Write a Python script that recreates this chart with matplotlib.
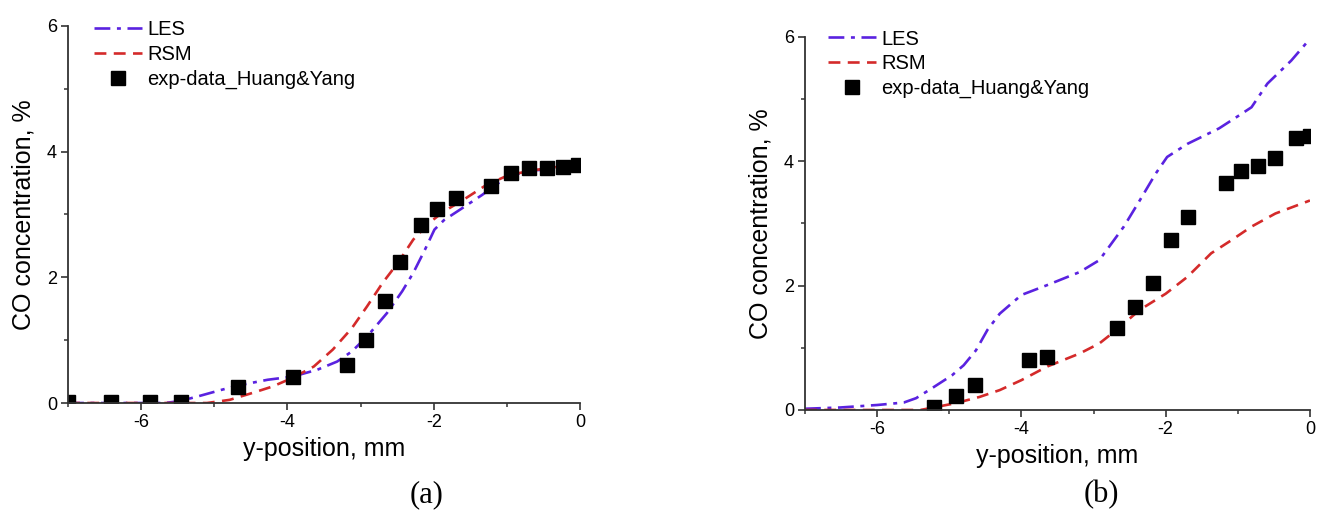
import matplotlib
matplotlib.use("Agg")
import matplotlib.pyplot as plt
from matplotlib.ticker import MultipleLocator

plt.rcParams["font.family"] = ["Liberation Sans", "DejaVu Sans"]
plt.rcParams["axes.unicode_minus"] = False

# --- panel (a) ---
les_a_x = [-7.0, -5.68, -5.47, -5.21, -4.9, -4.67, -4.27, -3.93, -3.59, -3.32, -3.12, -2.91,
           -2.64, -2.43, -2.28, -2.12, -1.99, -1.86, -1.65, -1.34, -1.02, -0.71, -0.34, 0.0]
les_a_y = [0.0, 0.0, 0.03, 0.11, 0.21, 0.28, 0.37, 0.42, 0.53, 0.66, 0.82, 1.06,
           1.43, 1.78, 2.07, 2.44, 2.76, 2.91, 3.07, 3.31, 3.58, 3.70, 3.72, 3.74]
rsm_a_x = [-7.0, -5.1, -4.79, -4.48, -4.21, -3.93, -3.64, -3.38, -3.12, -2.91, -2.70,
           -2.49, -2.28, -2.07, -1.86, -1.60, -1.28, -0.97, -0.60, -0.29, 0.0]
rsm_a_y = [0.0, 0.0, 0.05, 0.16, 0.26, 0.40, 0.58, 0.85, 1.19, 1.54, 1.91,
           2.23, 2.60, 2.86, 3.05, 3.23, 3.47, 3.63, 3.71, 3.76, 3.84]
exp_a_x = [-7.0, -6.41, -5.88, -5.45, -4.67, -3.93, -3.18, -2.92, -2.66, -2.46,
           -2.17, -1.95, -1.70, -1.22, -0.94, -0.70, -0.45, -0.23, -0.03]
exp_a_y = [0.02, 0.02, 0.02, 0.02, 0.25, 0.42, 0.61, 1.0, 1.62, 2.25,
           2.84, 3.08, 3.26, 3.46, 3.66, 3.74, 3.74, 3.75, 3.79]

# --- panel (b) ---
les_b_x = [-7.0, -6.51, -6.0, -5.63, -5.46, -5.24, -4.96, -4.80, -4.63, -4.47, -4.3, -4.0,
           -3.64, -3.19, -2.92, -2.75, -2.58, -2.36, -2.14, -1.98, -1.70, -1.26, -0.98,
           -0.81, -0.59, -0.26, 0.0]
les_b_y = [0.02, 0.04, 0.08, 0.12, 0.19, 0.35, 0.56, 0.72, 0.96, 1.29, 1.55, 1.85,
           2.01, 2.22, 2.41, 2.68, 2.95, 3.37, 3.80, 4.07, 4.28, 4.53, 4.74,
           4.87, 5.25, 5.62, 5.97]
rsm_b_x = [-7.0, -5.4, -5.13, -4.91, -4.58, -4.30, -4.0, -3.64, -3.19, -2.92, -2.68,
           -2.36, -2.0, -1.70, -1.37, -1.09, -0.81, -0.48, 0.0]
rsm_b_y = [0.0, 0.0, 0.06, 0.11, 0.21, 0.32, 0.48, 0.70, 0.91, 1.07, 1.29,
           1.61, 1.87, 2.14, 2.52, 2.73, 2.95, 3.16, 3.37]
exp_b_x = [-5.21, -4.91, -4.64, -3.90, -3.64, -2.68, -2.43, -2.18, -1.93, -1.69,
           -1.17, -0.96, -0.72, -0.48, -0.19, 0.0]
exp_b_y = [0.04, 0.22, 0.40, 0.80, 0.86, 1.32, 1.66, 2.04, 2.74, 3.10,
           3.65, 3.85, 3.93, 4.06, 4.38, 4.40]

les_color = "#5a22e0"
rsm_color = "#d42a2a"
axis_color = "#333333"

fig = plt.figure(figsize=(13.26, 5.24), dpi=100)
ax_a = fig.add_axes([0.0513, 0.2309, 0.3861, 0.7195])
ax_b = fig.add_axes([0.6071, 0.2176, 0.3808, 0.7118])


def draw_panel(ax, les_x, les_y, rsm_x, rsm_y, exp_x, exp_y, leg_anchor):
    ax.plot(les_x, les_y, color=les_color, lw=1.9, dashes=(6, 2.5, 1.5, 2.5), label="LES")
    ax.plot(rsm_x, rsm_y, color=rsm_color, lw=1.9, dashes=(4.5, 2.8), label="RSM")
    ax.plot(exp_x, exp_y, ls="none", marker="s", ms=10, color="black",
            label="exp-data_Huang&Yang")

    ax.set_xlim(-7, 0)
    ax.set_ylim(0, 6)
    ax.xaxis.set_major_locator(MultipleLocator(2))
    ax.xaxis.set_minor_locator(MultipleLocator(1))
    ax.yaxis.set_major_locator(MultipleLocator(2))
    ax.yaxis.set_minor_locator(MultipleLocator(1))
    for side in ["top", "right"]:
        ax.spines[side].set_visible(False)
    for side in ["left", "bottom"]:
        ax.spines[side].set_color(axis_color)
        ax.spines[side].set_linewidth(1.3)
    ax.tick_params(which="major", direction="out", length=5, width=1.2,
                   color=axis_color, labelsize=13, pad=3)
    ax.tick_params(which="minor", direction="out", length=3, width=1.1, color=axis_color)

    ax.set_xlabel("y-position, mm", fontsize=18, labelpad=4)
    ax.set_ylabel("CO concentration, %", fontsize=18, labelpad=8)

    ax.legend(loc="upper left", bbox_to_anchor=leg_anchor, frameon=False,
              fontsize=14.5, handlelength=2.4, handletextpad=0.25,
              labelspacing=0.28, borderaxespad=0, borderpad=0)


draw_panel(ax_a, les_a_x, les_a_y, rsm_a_x, rsm_a_y, exp_a_x, exp_a_y, (0.05, 1.015))
draw_panel(ax_b, les_b_x, les_b_y, rsm_b_x, rsm_b_y, exp_b_x, exp_b_y, (0.045, 1.02))

fig.text(427 / 1326, 1 - 495 / 524, "(a)", family=["Liberation Serif", "DejaVu Serif"],
         fontsize=22, ha="center", va="center")
fig.text(1101 / 1326, 1 - 495 / 524, "(b)", family=["Liberation Serif", "DejaVu Serif"],
         fontsize=22, ha="center", va="center")

fig.savefig("out.png", dpi=100)
